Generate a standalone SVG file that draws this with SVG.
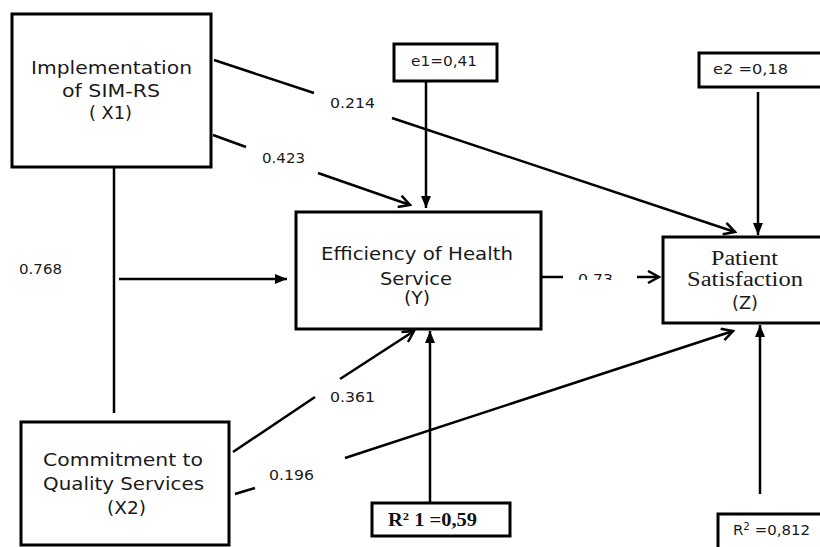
<svg xmlns="http://www.w3.org/2000/svg" width="820" height="547" viewBox="0 0 820 547">
<style>
.box{fill:#fff;stroke:#000;stroke-width:3}
.ln{fill:none;stroke:#000;stroke-width:2.5}
.t{font-family:"DejaVu Sans","Open Sans",sans-serif;font-size:17px;fill:#1a1a1a}
.n{font-family:"DejaVu Sans","Open Sans",sans-serif;font-size:14.5px;fill:#1a1a1a}
.s{font-family:"Liberation Serif","DejaVu Serif",serif;font-size:20px;fill:#1a1a1a}
.sb{font-family:"Liberation Serif","DejaVu Serif",serif;font-size:18px;font-weight:bold;fill:#111}
</style>
<defs>
<marker id="tri" markerUnits="userSpaceOnUse" viewBox="0 0 12 10" refX="12" refY="5" markerWidth="12" markerHeight="10" orient="auto">
<path d="M0,0 L12,5 L0,10 Z" fill="#000"/>
</marker>
<marker id="chev" markerUnits="userSpaceOnUse" viewBox="0 0 14 14" refX="12" refY="7" markerWidth="14" markerHeight="14" orient="auto">
<path d="M1,1 L12,7 L1,13" fill="none" stroke="#000" stroke-width="2.5"/>
</marker>
<clipPath id="clip73"><rect x="570" y="265" width="50" height="15"/></clipPath>
</defs>

<g id="connectors">
<line class="ln" x1="214" y1="60" x2="314" y2="93"/>
<line class="ln" x1="392" y1="118" x2="735" y2="232" marker-end="url(#chev)"/>
<line class="ln" x1="213" y1="135" x2="246" y2="147"/>
<line class="ln" x1="318" y1="173" x2="410" y2="205" marker-end="url(#chev)"/>
<line class="ln" x1="114" y1="167" x2="114" y2="413"/>
<line class="ln" x1="119" y1="279" x2="287" y2="279" marker-end="url(#tri)"/>
<line class="ln" x1="426" y1="81" x2="426" y2="208" marker-end="url(#tri)"/>
<line class="ln" x1="758" y1="92" x2="758" y2="235" marker-end="url(#tri)"/>
<line class="ln" x1="537" y1="277" x2="563" y2="277"/>
<line class="ln" x1="637" y1="277" x2="659" y2="277" marker-end="url(#chev)"/>
<line class="ln" x1="233" y1="452" x2="315" y2="397"/>
<line class="ln" x1="340" y1="379" x2="414" y2="331" marker-end="url(#chev)"/>
<line class="ln" x1="235" y1="494" x2="255" y2="488"/>
<line class="ln" x1="345" y1="458" x2="733" y2="331" marker-end="url(#chev)"/>
<line class="ln" x1="430" y1="503" x2="430" y2="331" marker-end="url(#tri)"/>
<line class="ln" x1="760" y1="494" x2="760" y2="325" marker-end="url(#tri)"/>
<text class="n" x="330" y="108" textLength="45" lengthAdjust="spacingAndGlyphs">0.214</text>
<text class="n" x="262" y="163" textLength="43" lengthAdjust="spacingAndGlyphs">0.423</text>
<text class="n" x="19" y="274" textLength="43" lengthAdjust="spacingAndGlyphs">0.768</text>
<text class="n" x="578" y="284" textLength="35" lengthAdjust="spacingAndGlyphs" clip-path="url(#clip73)">0.73</text>
<text class="n" x="330" y="402" textLength="45" lengthAdjust="spacingAndGlyphs">0.361</text>
<text class="n" x="269" y="480" textLength="45" lengthAdjust="spacingAndGlyphs">0.196</text>
</g>

<g id="X1">
<rect class="box" x="12" y="14" width="199" height="153"/>
<text class="t" x="31" y="74" textLength="161" lengthAdjust="spacingAndGlyphs">Implementation</text>
<text class="t" x="62" y="97" textLength="98" lengthAdjust="spacingAndGlyphs">of SIM-RS</text>
<text class="t" x="89" y="119" textLength="43" lengthAdjust="spacingAndGlyphs">( X1)</text>
</g>

<g id="e1">
<rect class="box" x="394" y="44" width="103" height="37"/>
<text class="n" x="411" y="66" textLength="66" lengthAdjust="spacingAndGlyphs">e1=0,41</text>
</g>

<g id="e2">
<rect class="box" x="699" y="53" width="131" height="34"/>
<text class="n" x="713" y="74" textLength="75" lengthAdjust="spacingAndGlyphs">e2 =0,18</text>
</g>

<g id="Y">
<rect class="box" x="296" y="212" width="245" height="117"/>
<text class="t" x="321" y="260" textLength="192" lengthAdjust="spacingAndGlyphs">Efficiency of Health</text>
<text class="t" x="380" y="285" textLength="72" lengthAdjust="spacingAndGlyphs">Service</text>
<text class="t" x="404" y="304" textLength="26" lengthAdjust="spacingAndGlyphs">(Y)</text>
</g>

<g id="Z">
<rect class="box" x="663" y="237" width="170" height="86"/>
<text class="s" x="711" y="265" textLength="67" lengthAdjust="spacingAndGlyphs">Patient</text>
<text class="s" x="687" y="286" textLength="116" lengthAdjust="spacingAndGlyphs">Satisfaction</text>
<text class="t" x="732" y="309" textLength="26" lengthAdjust="spacingAndGlyphs">(Z)</text>
</g>

<g id="X2">
<rect class="box" x="21" y="422" width="208" height="123"/>
<text class="t" x="43" y="466" textLength="160" lengthAdjust="spacingAndGlyphs">Commitment to</text>
<text class="t" x="43" y="490" textLength="161" lengthAdjust="spacingAndGlyphs">Quality Services</text>
<text class="t" x="107" y="514" textLength="39" lengthAdjust="spacingAndGlyphs">(X2)</text>
</g>

<g id="R2_1">
<rect class="box" x="372" y="503" width="138" height="33"/>
<text class="sb" x="388" y="526" textLength="89" lengthAdjust="spacingAndGlyphs">R<tspan font-size="11" dy="-6">2</tspan><tspan dy="6"> 1 =0,59</tspan></text>
</g>

<g id="R2_2">
<rect class="box" x="718" y="514" width="115" height="45"/>
<text class="n" x="733" y="535" textLength="77" lengthAdjust="spacingAndGlyphs">R<tspan font-size="10" dy="-5">2</tspan><tspan dy="5"> =0,812</tspan></text>
</g>
</svg>
